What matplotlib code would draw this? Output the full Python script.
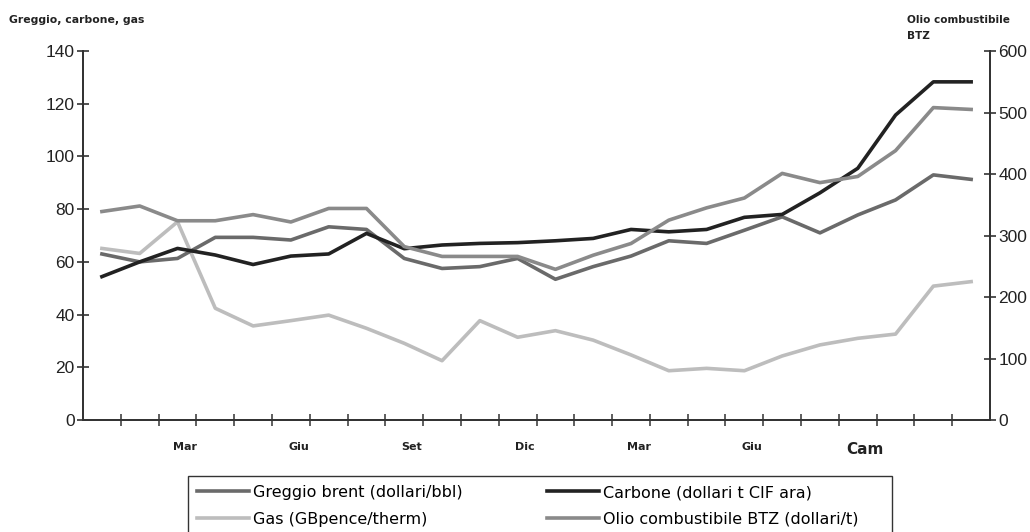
import matplotlib.pyplot as plt
from matplotlib.patches import Rectangle
import numpy as np

# 24 monthly observations, Jan of year 1 to Dec of year 2
mesi = list(range(24))
etichette_mesi = ["Mar", "Giu", "Set", "Dic", "Mar", "Giu", "Cam"]
pos_etichette = [2, 5, 8, 11, 14, 17, 20]

greggio = [63, 60, 61.3, 69.3, 69.3, 68.3, 73.3, 72.3, 61.3, 57.5, 58.2, 61.3,
           53.4, 58.2, 62.2, 68, 67, 72, 77.1, 71, 77.8, 83.5, 93, 91.3]
carbone = [54.4, 60, 65.1, 62.6, 59, 62.2, 63, 70.8, 65, 66.4, 67, 67.3,
           68, 68.9, 72.3, 71.4, 72.3, 76.9, 78, 86.2, 95.5, 115.7, 128.3, 128.3]
gas = [65.1, 63.2, 75.2, 42.4, 35.7, 37.7, 39.8, 34.8, 29.1, 22.5, 37.7, 31.4,
       33.9, 30.3, 24.7, 18.7, 19.6, 18.7, 24.3, 28.5, 31, 32.6, 50.8, 52.5]
# fuel oil on the right-hand scale
olio = [339, 348, 324, 324, 334, 322, 344, 344, 282, 266, 266, 266,
        245, 268, 287, 325, 345, 361, 401, 386, 396, 438, 508, 505]

fig = plt.figure(figsize=(10.3, 5.32), dpi=100)
ax = fig.add_axes([0.0806, 0.2105, 0.8806, 0.6936])
ax2 = ax.twinx()

lw = 2.6
l_greggio, = ax.plot(mesi, greggio, color="#6a6a6a", lw=lw, zorder=3)
l_gas, = ax.plot(mesi, gas, color="#bdbdbd", lw=lw, zorder=2)
l_carbone, = ax.plot(mesi, carbone, color="#222222", lw=lw, zorder=5)
l_olio, = ax2.plot(mesi, olio, color="#8a8a8a", lw=lw, zorder=4)

ax.set_xlim(-0.5, 23.5)
ax.set_ylim(0, 140)
ax2.set_ylim(0, 600)
ax.set_yticks(np.arange(0, 141, 20))
ax2.set_yticks(np.arange(0, 601, 100))

for a in (ax, ax2):
    a.spines["top"].set_visible(False)
    for s in a.spines.values():
        s.set_color("#333333")
        s.set_linewidth(1.3)
    a.tick_params(axis="y", direction="inout", length=8, width=1.1, pad=2,
                  labelsize=12.5, colors="#222222")
    for t in a.get_yticklabels():
        t.set_family("Liberation Sans")

# tick marks at month boundaries, labels in between
ax.set_xticks(np.arange(0.5, 23.5, 1), minor=True)
ax.tick_params(axis="x", which="minor", direction="inout", length=8, width=1.1,
               color="#333333")
ax.set_xticks([p + 0.2 for p in pos_etichette])
ax.set_xticklabels(etichette_mesi)
ax.tick_params(axis="x", which="major", length=0, pad=16, labelsize=8,
               colors="#222222")
for t in ax.get_xticklabels():
    t.set_fontweight("bold")
ax.get_xticklabels()[-1].set_fontsize(11)

fig.text(0.009, 0.962, "Greggio, carbone, gas", fontsize=7.8, fontweight="bold",
         color="#222222", va="center")
fig.text(0.881, 0.963, "Olio combustibile", fontsize=7.6, fontweight="bold",
         color="#222222", va="center")
fig.text(0.881, 0.933, "BTZ", fontsize=7.6, fontweight="bold",
         color="#222222", va="center")

leg = fig.legend([l_greggio, l_gas, l_carbone, l_olio],
                 ["Greggio brent (dollari/bbl)", "Gas (GBpence/therm)",
                  "Carbone (dollari t CIF ara)", "Olio combustibile BTZ (dollari/t)"],
                 loc="upper left", bbox_to_anchor=(197 / 1030, 1 - 485 / 532),
                 ncol=2, frameon=False,
                 prop={"family": "DejaVu Sans", "size": 11.5},
                 handlelength=3.25, handletextpad=0.25, columnspacing=5.3,
                 borderaxespad=0, borderpad=0, labelspacing=0.75)

# legend frame, running off the bottom edge
fig.add_artist(Rectangle((188 / 1030, -0.05), (892 - 188) / 1030,
                         (532 - 476) / 532 + 0.05, transform=fig.transFigure,
                         fill=False, edgecolor="#333333", lw=1.0))

fig.savefig("out.png", dpi=100)
